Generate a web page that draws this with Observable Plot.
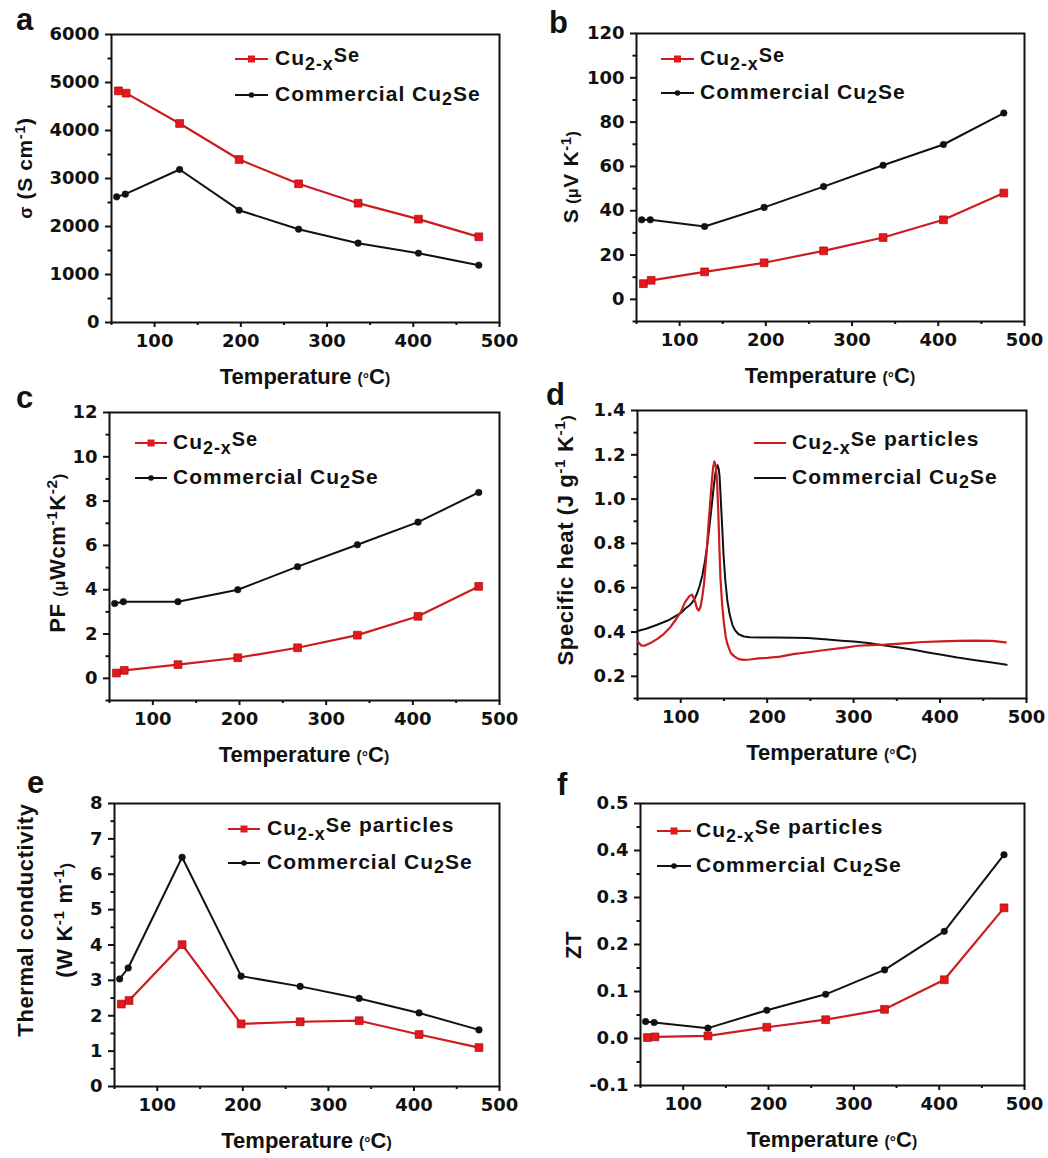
<!DOCTYPE html>
<html><head><meta charset="utf-8">
<script src="https://cdn.jsdelivr.net/npm/d3@7"></script>
<script src="https://cdn.jsdelivr.net/npm/@observablehq/plot@0.6"></script>
<style>
body{margin:0;background:#fff;}
#fig{position:relative;width:1048px;height:1158px;overflow:hidden;background:#fff;}
#fig svg{position:absolute;overflow:visible;}
</style></head><body><div id="fig"></div>
<script>
// ---------- data ----------
const T_red = [58, 67, 129, 198, 267, 336, 406, 476];
const T_blk = [56, 66, 129, 198, 267, 336, 406, 476];
const sigma_red = [4826, 4778, 4146, 3396, 2889, 2486, 2153, 1785];
const sigma_blk = [2618, 2674, 3188, 2340, 1944, 1653, 1444, 1194];
const seebeck_red = [7.1, 8.6, 12.4, 16.5, 21.9, 27.9, 35.9, 48.0];
const seebeck_blk = [35.9, 35.9, 32.9, 41.5, 50.9, 60.5, 69.9, 84.1];
const pf_red = [0.24, 0.36, 0.62, 0.93, 1.38, 1.95, 2.80, 4.15];
const pf_blk = [3.38, 3.46, 3.46, 4.0, 5.04, 6.03, 7.05, 8.39];
const kappa_red = [2.33, 2.43, 4.01, 1.77, 1.83, 1.86, 1.47, 1.10];
const kappa_blk = [3.04, 3.35, 6.48, 3.12, 2.83, 2.49, 2.08, 1.60];
const zt_red = [0.002, 0.0034, 0.0055, 0.024, 0.040, 0.062, 0.125, 0.278];
const zt_blk = [0.036, 0.034, 0.022, 0.060, 0.094, 0.146, 0.228, 0.391];

// specific heat curves (d)
const cp_red_T = [50,54,58,65,73,80,88,95,100,105,110,113,116,119,121,123,125,127,130,132,134.2,136,137.5,139,140.5,142,143.3,145,146,148,150,152,154,158,162,167,173,180,190,200,215,230,250,267,290,305,320,336,350,363,380,402,420,441,460,476];
const cp_red_v = [0.358,0.340,0.338,0.350,0.369,0.39,0.422,0.46,0.49,0.535,0.562,0.569,0.545,0.505,0.497,0.515,0.56,0.62,0.76,0.88,0.99,1.08,1.145,1.17,1.15,1.08,0.96,0.75,0.64,0.52,0.44,0.38,0.345,0.305,0.29,0.278,0.274,0.276,0.281,0.283,0.289,0.30,0.31,0.319,0.33,0.338,0.341,0.343,0.347,0.35,0.355,0.358,0.36,0.361,0.36,0.353];
const cp_blk_T = [50,60,72,85,92,100,105,110,113,116,119,122,125,128,130.4,133,136,138,140,141.5,142.7,144,145,146.3,147.8,149.5,151.6,154,156.6,160,163,167,173,180,196,210,230,247,270,286,300,317,330,344,358,371,386,402,420,441,460,477];
const cp_blk_v = [0.405,0.415,0.432,0.452,0.467,0.485,0.505,0.52,0.532,0.55,0.575,0.61,0.655,0.72,0.783,0.87,0.975,1.05,1.114,1.145,1.153,1.135,1.10,1.0,0.888,0.75,0.632,0.54,0.48,0.43,0.407,0.39,0.38,0.377,0.375,0.375,0.374,0.373,0.366,0.361,0.357,0.35,0.343,0.335,0.327,0.319,0.308,0.297,0.285,0.273,0.262,0.252];

// ticks
const xMajor = [100, 200, 300, 400, 500];
const xMinor = [50, 150, 250, 350, 450];
const yTicks_a = [0, 1000, 2000, 3000, 4000, 5000, 6000];
const yMinor_a = [500, 1500, 2500, 3500, 4500, 5500];
const yTicks_b = [0, 20, 40, 60, 80, 100, 120];
const yMinor_b = [-10, 10, 30, 50, 70, 90, 110];
const yTicks_c = [0, 2, 4, 6, 8, 10, 12];
const yMinor_c = [-1, 1, 3, 5, 7, 9, 11];
const yTicks_d = [0.2, 0.4, 0.6, 0.8, 1.0, 1.2, 1.4];
const yMinor_d = [0.1, 0.3, 0.5, 0.7, 0.9, 1.1, 1.3];
const yTicks_e = [0, 1, 2, 3, 4, 5, 6, 7, 8];
const yMinor_e = [0.5, 1.5, 2.5, 3.5, 4.5, 5.5, 6.5, 7.5];
const yTicks_f = [-0.1, 0.0, 0.1, 0.2, 0.3, 0.4, 0.5];
const yMinor_f = [-0.05, 0.05, 0.15, 0.25, 0.35, 0.45];

// ---------- styling ----------
const RED = "#e3171c", REDLINE = "#cc1c1f", REDEDGE = "#a80d10", BLACK = "#111";
const LABEL_FONT = "'Liberation Sans', Arial, sans-serif";
const fig = document.getElementById("fig");

function rich(textSel, parts, size) {
  // parts: [text, offset(px, +down), scale]
  let cur = 0;
  parts.forEach(([t, off, sc]) => {
    textSel.append("tspan").attr("dy", off - cur).attr("font-size", size * sc).text(t);
    cur = off;
  });
}

const nameRed = [["Cu", 0, 1], ["2-x", 5, 0.85], ["Se", -3, 0.95]];
const nameRedP = [["Cu", 0, 1], ["2-x", 5, 0.85], ["Se", -3, 0.95], [" particles", -3, 1]];
const nameBlk = [["Commercial Cu", 0, 1], ["2", 4, 0.85], ["Se", 0, 1]];
const tempLabel = [["Temperature ", 0, 1], ["(", 0, 0.72], ["°", 0, 0.7], ["C", 0, 1], [")", 0, 0.72]];

const panels = [
  {letter: "a", lp: [16, 30], box: {x: 0, y: 0, w: 524, h: 392}, frame: {x0: 111, x1: 499, y0: 34, y1: 322},
   ydom: [0, 6000], ymaj: yTicks_a, ymin: yMinor_a, fmt: d => String(d), red: sigma_red, blk: sigma_blk, markers: true,
   leg: {x0: 235, x1: 268, tx: 275, y1: 59, y2: 95}, redName: nameRed,
   ylab: [{cx: 32, cy: 168, size: 21, parts: [["σ", 0, 0.85], [" (S cm", 0, 1], ["-1", -7, 0.7], [")", 0, 1]]}]},
  {letter: "b", lp: [549, 33], box: {x: 524, y: 0, w: 524, h: 392}, frame: {x0: 636, x1: 1024, y0: 33, y1: 321},
   ydom: [-10, 120], ymaj: yTicks_b, ymin: yMinor_b, fmt: d => String(d), red: seebeck_red, blk: seebeck_blk, markers: true,
   leg: {x0: 661, x1: 694, tx: 700, y1: 59, y2: 93}, redName: nameRed,
   ylab: [{cx: 578, cy: 177, size: 21, parts: [["S", 0, 1], [" (", 0, 0.75], ["μ", 0, 0.75], ["V K", 0, 1], ["-1", -7, 0.7], [")", 0, 0.75]]}]},
  {letter: "c", lp: [16, 408], box: {x: 0, y: 380, w: 524, h: 392}, frame: {x0: 109, x1: 499, y0: 412, y1: 700},
   ydom: [-1, 12], ymaj: yTicks_c, ymin: yMinor_c, fmt: d => String(d), red: pf_red, blk: pf_blk, markers: true,
   leg: {x0: 135, x1: 167, tx: 173, y1: 443, y2: 478}, redName: nameRed,
   ylab: [{cx: 65, cy: 553, size: 22, parts: [["PF ", 0, 1], ["(", 0, 0.75], ["μ", 0, 0.75], ["Wcm", 0, 1], ["-1", -8, 0.7], ["K", 0, 1], ["-2", -8, 0.7], [")", 0, 0.75]]}]},
  {letter: "d", lp: [546, 405], box: {x: 524, y: 380, w: 524, h: 392}, frame: {x0: 637, x1: 1026, y0: 410, y1: 698},
   ydom: [0.1, 1.4], ymaj: yTicks_d, ymin: yMinor_d, fmt: d => d.toFixed(1), markers: false,
   leg: {x0: 754, x1: 786, tx: 792, y1: 443, y2: 478}, redName: nameRedP,
   ylab: [{cx: 573, cy: 540, size: 22, parts: [["Specific heat ", 0, 1], ["(J g", 0, 1], ["-1", -8, 0.7], [" K", 0, 1], ["-1", -8, 0.7], [")", 0, 0.75]]}]},
  {letter: "e", lp: [27, 793], box: {x: 0, y: 760, w: 524, h: 398}, frame: {x0: 114, x1: 499, y0: 803, y1: 1086},
   ydom: [0, 8], ymaj: yTicks_e, ymin: yMinor_e, fmt: d => String(d), red: kappa_red, blk: kappa_blk, markers: true,
   leg: {x0: 228, x1: 260, tx: 267, y1: 829, y2: 863}, redName: nameRedP,
   ylab: [{cx: 33, cy: 920, size: 22, parts: [["Thermal conductivity", 0, 1]]},
          {cx: 72, cy: 920, size: 22, parts: [["(W K", 0, 1], ["-1", -8, 0.7], [" m", 0, 1], ["-1", -8, 0.7], [")", 0, 0.75]]}]},
  {letter: "f", lp: [557, 795], box: {x: 524, y: 760, w: 524, h: 398}, frame: {x0: 640, x1: 1024, y0: 803, y1: 1085},
   ydom: [-0.1, 0.5], ymaj: yTicks_f, ymin: yMinor_f, fmt: d => d.toFixed(1), red: zt_red, blk: zt_blk, markers: true,
   leg: {x0: 657, x1: 691, tx: 696, y1: 831, y2: 866}, redName: nameRedP,
   ylab: [{cx: 581, cy: 945, size: 22, parts: [["ZT", 0, 1]]}]}
];

panels.forEach(p => {
  const {box, frame} = p;
  const ml = frame.x0 - box.x, mr = box.x + box.w - frame.x1;
  const mt = frame.y0 - box.y, mb = box.y + box.h - frame.y1;
  let redData, blkData;
  if (p.markers) {
    redData = T_red.map((t, i) => ({T: t, v: p.red[i]}));
    blkData = T_blk.map((t, i) => ({T: t, v: p.blk[i]}));
  } else {
    redData = cp_red_T.map((t, i) => ({T: t, v: cp_red_v[i]}));
    blkData = cp_blk_T.map((t, i) => ({T: t, v: cp_blk_v[i]}));
  }
  const marks = [
    Plot.axisX({ticks: xMajor, tickSize: 5, tickPadding: 7, strokeWidth: 2, tickFormat: d => String(d), label: null}),
    Plot.axisX({ticks: xMinor, tickSize: 3, strokeWidth: 2, tickFormat: () => "", label: null}),
    Plot.axisY({ticks: p.ymaj, tickSize: 6, tickPadding: 6, strokeWidth: 2, tickFormat: p.fmt, label: null}),
    Plot.axisY({ticks: p.ymin, tickSize: 3.5, strokeWidth: 2, tickFormat: () => "", label: null}),
    Plot.frame({stroke: BLACK, strokeWidth: 2}),
    Plot.line(blkData, {x: "T", y: "v", stroke: BLACK, strokeWidth: 2}),
    Plot.line(redData, {x: "T", y: "v", stroke: REDLINE, strokeWidth: 2.2})
  ];
  if (p.markers) {
    marks.push(Plot.dot(blkData, {x: "T", y: "v", r: 3.3, fill: BLACK, stroke: BLACK, strokeWidth: 0.5}));
    marks.push(Plot.dot(redData, {x: "T", y: "v", symbol: "square", r: 4.4, fill: RED, stroke: REDEDGE, strokeWidth: 0.7}));
  }
  const svgEl = Plot.plot({
    width: box.w, height: box.h,
    marginLeft: ml, marginRight: mr, marginTop: mt, marginBottom: mb,
    x: {domain: [50, 500]},
    y: {domain: p.ydom},
    style: {fontFamily: "'DejaVu Sans', sans-serif", fontWeight: "bold", fontSize: "18px", color: BLACK, background: "transparent", overflow: "visible"},
    marks
  });
  svgEl.style.left = box.x + "px";
  svgEl.style.top = box.y + "px";
  fig.appendChild(svgEl);
  const svg = d3.select(svgEl);
  const ox = box.x, oy = box.y;
  const g = svg.append("g").attr("fill", BLACK).attr("font-family", LABEL_FONT).attr("font-weight", "bold")
    .attr("text-anchor", "start");

  // panel letter
  g.append("text").attr("x", p.lp[0] - ox).attr("y", p.lp[1] - oy).attr("font-size", 31).text(p.letter);

  // x label
  const xl = g.append("text").attr("x", (frame.x0 + frame.x1) / 2 - ox).attr("y", frame.y1 + 62 - oy)
    .attr("text-anchor", "middle").attr("font-size", 22);
  rich(xl, tempLabel, 22);

  // y label(s)
  p.ylab.forEach(l => {
    const t = g.append("text").attr("transform", `translate(${l.cx - ox},${l.cy - oy}) rotate(-90)`)
      .attr("text-anchor", "middle").attr("font-size", l.size).attr("letter-spacing", 0.6);
    rich(t, l.parts, l.size);
  });

  // legend
  const L = p.leg;
  const rows = [
    {y: L.y1, color: REDLINE, parts: p.redName, mk: "sq"},
    {y: L.y2, color: BLACK, parts: nameBlk, mk: "ci"}
  ];
  rows.forEach(r => {
    g.append("line").attr("x1", L.x0 - ox).attr("x2", L.x1 - ox).attr("y1", r.y - oy).attr("y2", r.y - oy)
      .attr("stroke", r.color).attr("stroke-width", 2);
    if (p.markers) {
      const mx = (L.x0 + L.x1) / 2 - ox;
      if (r.mk === "sq") g.append("rect").attr("x", mx - 3.5).attr("y", r.y - oy - 3.5).attr("width", 7).attr("height", 7).attr("fill", RED);
      else g.append("circle").attr("cx", mx).attr("cy", r.y - oy).attr("r", 2.8).attr("fill", BLACK);
    }
    const t = g.append("text").attr("x", L.tx - ox).attr("y", r.y + 6 - oy).attr("font-size", 21)
      .attr("letter-spacing", 1).attr("text-anchor", "start");
    rich(t, r.parts, 21);
  });
});
</script></body></html>
